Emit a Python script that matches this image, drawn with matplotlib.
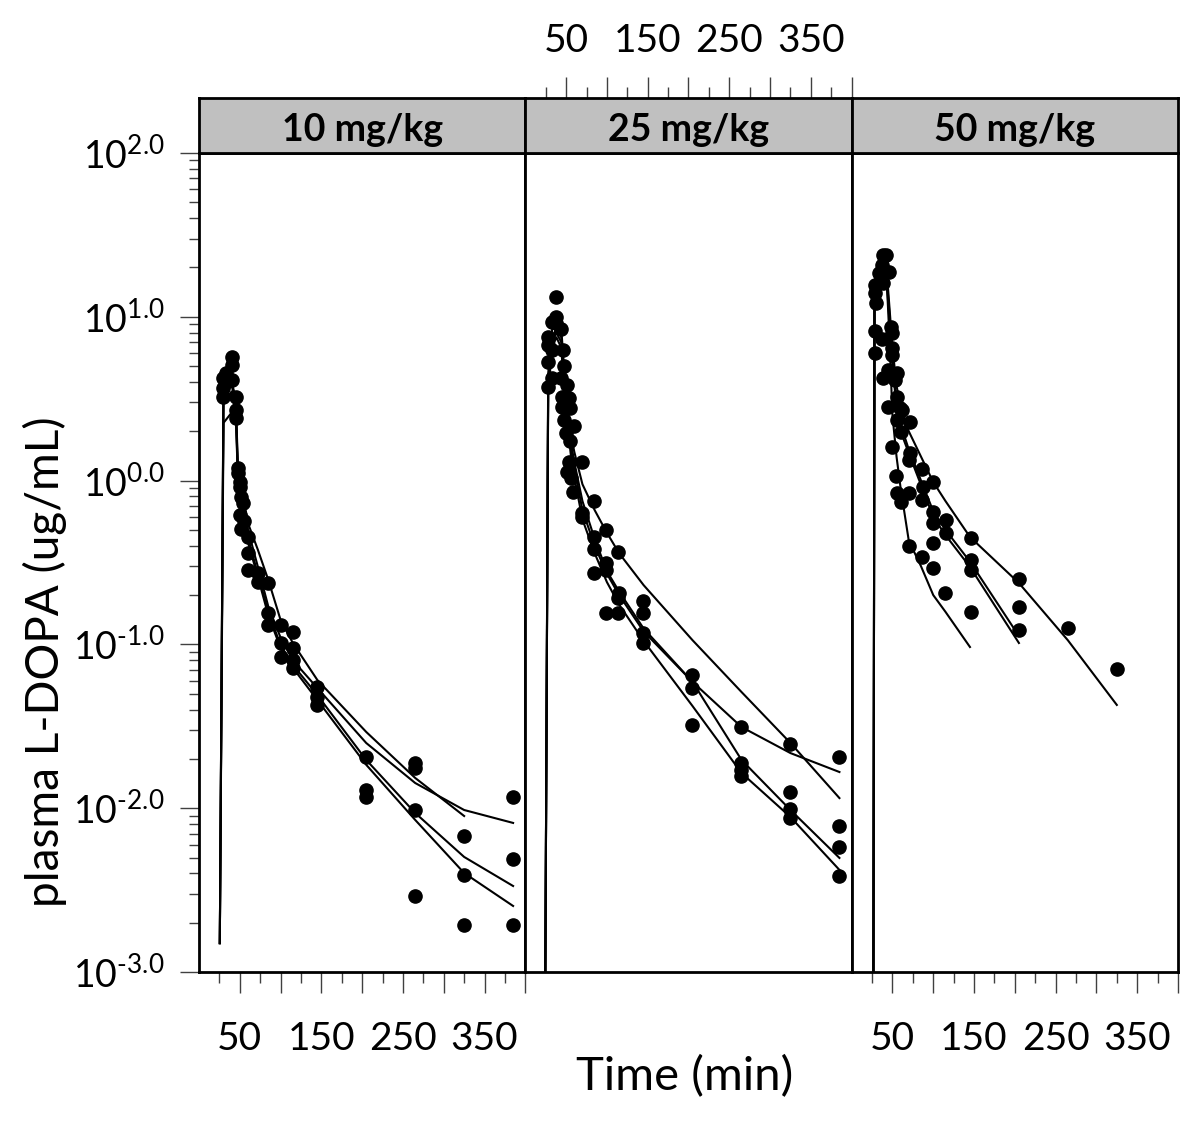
import numpy as np
import matplotlib
matplotlib.use('Agg')
import matplotlib.pyplot as plt
from matplotlib.ticker import FixedLocator, FixedFormatter, NullFormatter, LogLocator

plt.rcParams['font.family'] = ['Lato', 'DejaVu Sans']
plt.rcParams['mathtext.fontset'] = 'custom'
plt.rcParams['mathtext.rm'] = 'Lato'
plt.rcParams['mathtext.it'] = 'Lato:italic'
plt.rcParams['mathtext.bf'] = 'Lato:bold'

panel_titles = ['10 mg/kg', '25 mg/kg', '50 mg/kg']

# ---------------- 10 mg/kg ----------------
obs10_t = [30, 30, 30, 33, 40, 40, 40, 45, 45, 45, 48, 48, 50, 50, 52, 54, 50, 55, 51,
           60, 60, 60, 72, 72, 85, 85, 85, 100, 100, 100, 115, 115, 115, 115,
           145, 145, 145, 205, 205, 205, 265, 265, 265, 265, 325, 325, 325, 385, 385, 385]
obs10_c = [4.23, 3.67, 3.24, 4.54, 5.69, 5.08, 4.11, 3.24, 2.70, 2.41, 1.19, 1.11, 0.98, 0.91, 0.79, 0.73, 0.62, 0.57, 0.51,
           0.45, 0.36, 0.284, 0.273, 0.240, 0.237, 0.156, 0.131, 0.131, 0.102, 0.0838, 0.119, 0.095, 0.080, 0.0718,
           0.055, 0.0478, 0.0427, 0.0206, 0.0129, 0.0117, 0.0189, 0.0176, 0.00975, 0.00291, 0.00676, 0.00391, 0.00194,
           0.0117, 0.0049, 0.00194]
fit10_t = [25.5, 30, 40, 45, 48, 55, 60, 72, 85, 100, 115, 145, 205, 265, 325, 385]
fit10_a = [0.0015, 3.6, 4.0, 3.2, 1.1, 0.76, 0.55, 0.38, 0.247, 0.141, 0.102, 0.0607, 0.0292, 0.0153, 0.00896]
fit10_b = [0.0015, 3.3, 3.8, 3.0, 1.0, 0.70, 0.50, 0.30, 0.17, 0.11, 0.080, 0.0542, 0.025, 0.01425, 0.00975, 0.00813]
fit10_c = [0.0015, 2.25, 2.6, 2.8, 0.95, 0.65, 0.45, 0.27, 0.158, 0.099, 0.075, 0.0491, 0.0197, 0.00935, 0.00504, 0.00335]
fit10_d = [0.0015, 3.0, 3.5, 2.6, 0.9, 0.62, 0.42, 0.26, 0.15, 0.095, 0.072, 0.0458, 0.0184, 0.00848, 0.00402, 0.00253]

# ---------------- 25 mg/kg ----------------
obs25_t = [38, 38, 33, 38, 44, 28, 28, 33, 46, 28, 48, 28, 33, 44, 51, 45, 53, 45, 55, 48, 60, 50, 55,
           54, 70, 51, 56, 59, 70, 70, 84, 99, 84, 84, 99, 99, 84, 114, 115, 114, 99, 114,
           144, 144, 144, 144, 204, 204, 204, 264, 264, 264, 264, 324, 324, 324, 324, 384, 384, 384, 384]
obs25_c = [13.2, 9.98, 9.29, 9.16, 8.43, 7.53, 6.73, 6.27, 6.27, 5.30, 5.01, 3.73, 4.23, 4.23, 3.83, 3.24, 3.19, 2.81, 2.77, 2.34, 2.15, 1.95, 1.75,
           1.30, 1.30, 1.13, 1.04, 0.85, 0.634, 0.60, 0.75, 0.499, 0.453, 0.382, 0.314, 0.284, 0.273, 0.367, 0.206, 0.192, 0.156, 0.156,
           0.184, 0.156, 0.117, 0.102, 0.065, 0.0542, 0.0322, 0.0313, 0.0189, 0.0171, 0.0157, 0.0247, 0.01256, 0.00989, 0.00871,
           0.0206, 0.00778, 0.00579, 0.00385]
fit25_t = [24, 28, 33, 38, 44, 48, 52, 56, 60, 70, 85, 100, 115, 145, 205, 265, 325, 385]
fit25_a = [0.0003, 4.5, 8.5, 9.5, 8.5, 4.5, 2.8, 1.9, 1.5, 0.95, 0.66, 0.48, 0.36, 0.23, 0.106, 0.0512, 0.025, 0.01153]
fit25_b = [0.0003, 4.0, 7.5, 8.5, 7.5, 4.0, 2.5, 1.7, 1.3, 0.75, 0.44, 0.28, 0.21, 0.125, 0.059, 0.0313, 0.0217, 0.01663]
fit25_c = [0.0003, 3.7, 7.0, 8.0, 7.0, 3.7, 2.3, 1.55, 1.2, 0.66, 0.40, 0.27, 0.20, 0.12, 0.059, 0.0197, 0.00975, 0.00497]
fit25_d = [0.0003, 3.5, 6.5, 7.5, 6.5, 3.4, 2.1, 1.4, 1.05, 0.58, 0.36, 0.24, 0.175, 0.105, 0.042, 0.0164, 0.00883, 0.0042]

# ---------------- 50 mg/kg ----------------
obs50_t = [38, 42, 37, 46, 34, 28, 38, 28, 30, 29, 37, 29, 48, 49, 50, 50, 45, 55, 38, 53, 56, 45, 59, 62, 55, 71, 61,
           50, 71, 70, 86, 100, 88, 54, 55, 70, 61, 86, 100, 100, 116, 116, 70, 86, 100, 146, 100, 146, 146, 115, 146,
           205, 205, 205, 265, 325]
obs50_c = [23.8, 23.8, 20.7, 18.8, 18.5, 15.6, 16.1, 14.0, 12.1, 8.18, 7.31, 6.01, 8.67, 7.97, 6.45, 5.85, 4.73, 4.54, 4.23, 4.11, 3.24, 2.81, 2.77, 2.70, 2.34, 2.28, 1.98,
           1.60, 1.47, 1.34, 1.18, 0.98, 0.91, 1.07, 0.84, 0.84, 0.74, 0.76, 0.643, 0.551, 0.574, 0.479, 0.399, 0.342, 0.416, 0.446, 0.292, 0.327, 0.284, 0.206, 0.158,
           0.251, 0.169, 0.122, 0.126, 0.0708]
fit50_t = [26.5, 28, 30, 34, 38, 42, 46, 50, 55, 60, 70, 85, 100, 115, 145, 205, 265, 325]
fit50_a = [0.0003, 12, 16, 20, 22, 21, 8, 2.5, 1.4, 0.9, 0.43, 0.30, 0.2, 0.158, 0.0964]
fit50_b = [0.0003, 13, 17, 20, 21, 19, 10, 5, 2.8, 2.0, 1.47, 0.94, 0.60, 0.465, 0.297, 0.102]
fit50_c = [0.0003, 14, 18, 21, 22, 20, 11, 5.5, 3.1, 2.2, 1.55, 1.0, 0.65, 0.5, 0.32, 0.1125]
fit50_d = [0.0003, 15, 19, 22, 23, 22, 12, 6.5, 3.8, 2.8, 2.0, 1.40, 0.98, 0.75, 0.453, 0.237, 0.106, 0.0427]

obs_t = [obs10_t, obs25_t, obs50_t]
obs_c = [obs10_c, obs25_c, obs50_c]
fit_t = [fit10_t, fit25_t, fit50_t]
fits = [[fit10_a, fit10_b, fit10_c, fit10_d],
        [fit25_a, fit25_b, fit25_c, fit25_d],
        [fit50_a, fit50_b, fit50_c, fit50_d]]

x_major = [50, 100, 150, 200, 250, 300, 350, 400]
x_minor = [25, 75, 125, 175, 225, 275, 325, 375]
x_labels = ['50', '', '150', '', '250', '', '350', '']
y_major = [1e-3, 1e-2, 1e-1, 1e0, 1e1, 1e2]
y_exps = ['-3.0', '-2.0', '-1.0', '0.0', '1.0', '2.0']
y_labels = ['$\\mathdefault{10^{\\text{%s}}}$' % e for e in y_exps]

W, H = 1200, 1122
fig = plt.figure(figsize=(W / 100, H / 100), dpi=100)
left_px, right_px = 199, 1178
top_px, bot_px, strip_top_px = 153, 972, 98
pw = (right_px - left_px) / 3.0

tick_col = '#404040'
for i in range(3):
    x0 = (left_px + i * pw) / W
    ax = fig.add_axes([x0, 1 - bot_px / H, pw / W, (bot_px - top_px) / H])
    sx = fig.add_axes([x0, 1 - top_px / H, pw / W, (top_px - strip_top_px) / H])
    ax.set_yscale('log')
    ax.set_xlim(0, 400)
    ax.set_ylim(1e-3, 1e2)
    sx.set_xlim(0, 400)
    sx.set_ylim(0, 1)
    sx.set_facecolor('#c0c0c0')
    sx.set_yticks([])
    sx.text(0.5, 0.42, panel_titles[i], transform=sx.transAxes, ha='center', va='center',
            fontsize=27, fontweight='bold')
    for a in (ax, sx):
        for s in a.spines.values():
            s.set_linewidth(2.0)
            s.set_color('black')

    t = fit_t[i]
    for f in fits[i]:
        ax.plot(t[:len(f)], f, color='black', lw=1.5, zorder=2)
    ax.plot(obs_t[i], obs_c[i], 'o', color='black', ms=9.5, mec='black', zorder=3)

    tick_target = sx if i == 1 else ax
    other = ax if i == 1 else sx
    other.set_xticks([])
    tick_target.xaxis.set_major_locator(FixedLocator(x_major))
    tick_target.xaxis.set_minor_locator(FixedLocator(x_minor))
    tick_target.xaxis.set_major_formatter(FixedFormatter(x_labels))
    tick_target.xaxis.set_minor_formatter(NullFormatter())
    if i == 1:
        sx.xaxis.tick_top()
        sx.tick_params(axis='x', which='major', direction='out', length=15, width=1, color=tick_col,
                       labelsize=28, pad=13)
        sx.tick_params(axis='x', which='minor', direction='out', length=8, width=1, color=tick_col)
    else:
        ax.tick_params(axis='x', which='major', direction='out', length=15, width=1, color=tick_col,
                       labelsize=28, pad=20)
        ax.tick_params(axis='x', which='minor', direction='out', length=8, width=1, color=tick_col)

    if i == 0:
        ax.yaxis.set_major_locator(FixedLocator(y_major))
        ax.yaxis.set_major_formatter(FixedFormatter(y_labels))
        ax.yaxis.set_minor_locator(LogLocator(base=10, subs=np.arange(2, 10)))
        ax.yaxis.set_minor_formatter(NullFormatter())
        ax.tick_params(axis='y', which='major', direction='out', length=14, width=1, color=tick_col,
                       labelsize=27, pad=11)
        ax.tick_params(axis='y', which='minor', direction='out', length=7, width=1, color=tick_col)
    else:
        ax.yaxis.set_major_locator(FixedLocator([]))
        ax.yaxis.set_minor_locator(FixedLocator([]))
        ax.tick_params(axis='y', which='both', length=0, labelleft=False)

fig.text(685 / W, 1 - 1077 / H, 'Time (min)', ha='center', va='center', fontsize=34)
fig.text(45 / W, 1 - 662 / H, 'plasma L-DOPA (ug/mL)', ha='center', va='center', fontsize=33, rotation=90)

fig.savefig('out.png', dpi=100, facecolor='white')
